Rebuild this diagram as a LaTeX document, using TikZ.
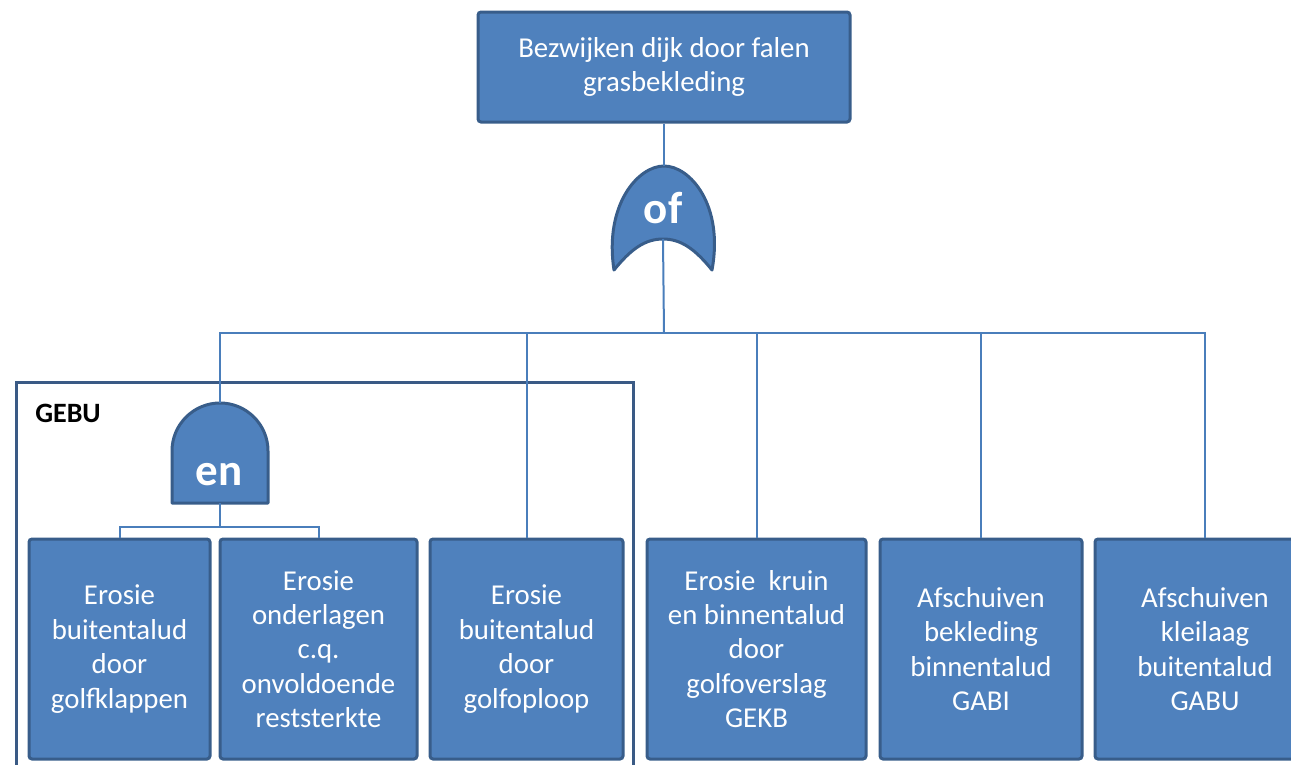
\documentclass[tikz,border=0pt]{standalone}
\usepackage{fontspec}
\setmainfont{Carlito}
\usetikzlibrary{positioning}
\definecolor{boxblue}{HTML}{4F81BD}
\definecolor{boxedge}{HTML}{385D8A}
\definecolor{lineblue}{HTML}{4A7EBB}
\definecolor{frameedge}{HTML}{3A5A85}

\begin{document}
\begin{tikzpicture}[x=1pt, y=-1pt]
    \tikzstyle{event} = [rectangle, rounded corners=3pt, draw=boxedge, fill=boxblue, line width=3pt,
      text=white, align=center, inner sep=0pt, font=\fontsize{28.8}{34.4}\selectfont]
    \tikzstyle{gate} = [draw=boxedge, fill=boxblue, line width=3pt, line join=round]
    \tikzstyle{gatelabel} = [text=white, font=\fontsize{45}{45}\selectfont\bfseries]
    \tikzstyle{conn} = [draw=lineblue, line width=2pt]

    \clip (0,0) rectangle (1291,764);

    % top event
    \node (top) [event, minimum width=372pt, minimum height=110pt] at (664,67)
      {Bezwijken dijk door falen\\grasbekleding};

    % GEBU group frame
    \draw [draw=frameedge, line width=3pt] (16,382) rectangle (633,800);
    \node (gebu) [font=\fontsize{28}{28}\selectfont\bfseries] at (68,413) {GEBU};

    % bottom events
    \node (klappen)    [event, minimum width=181pt, minimum height=220pt] at (119.5,649)
      {Erosie\\buitentalud\\door\\golfklappen};
    \node (onderlagen) [event, minimum width=197pt, minimum height=220pt] at (318.5,649)
      {Erosie\\onderlagen\\c.q.\\onvoldoende\\reststerkte};
    \node (oploop)     [event, minimum width=193pt, minimum height=220pt] at (526.5,649)
      {Erosie\\buitentalud\\door\\golfoploop};
    \node (gekb)       [event, minimum width=219pt, minimum height=220pt] at (756.5,649)
      {Erosie~ kruin\\en binnentalud\\door\\golfoverslag\\GEKB};
    \node (gabi)       [event, minimum width=202pt, minimum height=220pt] at (981,649)
      {Afschuiven\\bekleding\\binnentalud\\GABI};
    \node (gabu)       [event, minimum width=220pt, minimum height=220pt] at (1205,649)
      {Afschuiven\\kleilaag\\buitentalud\\GABU};

    % OF gate
    \coordinate (ofin)  at (664,166);
    \coordinate (ofout) at (663,239);
    \path [gate] (614,270) .. controls (604,205) and (638,166) .. (ofin)
      .. controls (690,166) and (724,205) .. (712,270)
      .. controls (695,249) and (681,239) .. (ofout)
      .. controls (645,239) and (631,249) .. cycle;
    \node (of) [gatelabel] at (663,208) {of};

    % EN gate
    \coordinate (enin)  at (220,403);
    \coordinate (enout) at (220,503);
    \path [gate] (172,503) -- (172,451) arc (180:360:48) -- (268,503) -- cycle;
    \node (en) [gatelabel] at (219,475) {en};

    % connectors
    \coordinate (bus)   at (664,333);
    \coordinate (enbus) at (220,527);
    \draw [conn] (top.south) -- (ofin);
    \draw [conn] (ofout) -- (bus);
    \draw [conn] (bus) -| (enin);
    \foreach \n in {oploop, gekb, gabi, gabu}
      \draw [conn] (bus) -| (\n.north);
    \draw [conn] (enout) -- (enbus);
    \draw [conn] (enbus) -| (klappen.north);
    \draw [conn] (enbus) -| (onderlagen.north);
\end{tikzpicture}
\end{document}
